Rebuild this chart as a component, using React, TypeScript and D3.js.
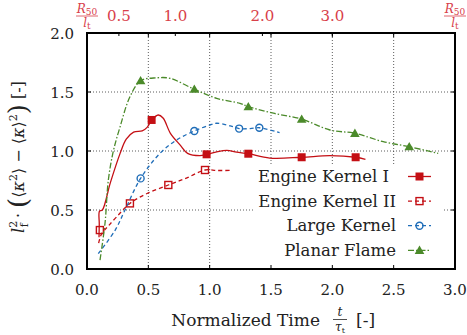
import * as d3 from 'd3';

// Engine Kernel I (solid red, filled squares)
const ek1Line: [number, number][] = [
  [0.098, 0.27], [0.1, 0.38], [0.102, 0.49], [0.125, 0.5], [0.19, 0.73], [0.27, 0.98],
  [0.32, 1.1], [0.38, 1.16], [0.45, 1.17], [0.49, 1.2], [0.527, 1.26], [0.58, 1.305],
  [0.62, 1.28], [0.68, 1.15], [0.76, 1.05], [0.82, 0.98], [0.92, 0.96], [0.975, 0.97],
  [1.05, 0.99], [1.14, 1.005], [1.22, 0.99], [1.315, 0.977], [1.49, 0.94], [1.75, 0.947],
  [1.98, 0.96], [2.19, 0.947], [2.27, 0.93],
];
const ek1Marks: [number, number][] = [[0.527, 1.263], [0.975, 0.972], [1.315, 0.977], [1.75, 0.947], [2.19, 0.947]];

// Engine Kernel II (dashed red, open squares)
const ek2Line: [number, number][] = [
  [0.095, 0.22], [0.12, 0.3], [0.17, 0.36], [0.24, 0.44], [0.35, 0.556], [0.49, 0.64],
  [0.663, 0.712], [0.81, 0.77], [0.962, 0.839], [1.06, 0.835], [1.165, 0.835],
];
const ek2Marks: [number, number][] = [[0.105, 0.33], [0.35, 0.556], [0.663, 0.712], [0.962, 0.839]];

// Large Kernel (dashed blue, open circles)
const lkLine: [number, number][] = [
  [0.092, 0.13], [0.23, 0.33], [0.31, 0.5], [0.437, 0.768], [0.595, 0.98], [0.73, 1.093],
  [0.875, 1.17], [1.0, 1.22], [1.057, 1.235], [1.19, 1.206], [1.24, 1.19], [1.33, 1.19],
  [1.405, 1.197], [1.57, 1.155],
];
const lkMarks: [number, number][] = [[0.437, 0.768], [0.875, 1.17], [1.24, 1.19], [1.405, 1.197]];

// Planar Flame (dash-dot green, filled triangles)
const pfLine: [number, number][] = [
  [0.106, 0.076], [0.147, 0.39], [0.174, 0.754], [0.215, 1.0], [0.27, 1.206], [0.35, 1.46],
  [0.437, 1.595], [0.567, 1.62], [0.676, 1.616], [0.875, 1.523], [1.057, 1.446], [1.247, 1.404],
  [1.315, 1.376], [1.52, 1.32], [1.75, 1.27], [1.98, 1.178], [2.184, 1.15], [2.415, 1.079],
  [2.627, 1.036], [2.863, 0.98],
];
const pfMarks: [number, number][] = [[0.437, 1.595], [0.875, 1.523], [1.315, 1.376], [1.75, 1.27], [2.184, 1.15], [2.627, 1.036]];

const xTicks = [0, 0.5, 1.0, 1.5, 2.0, 2.5, 3.0];
const yTicks = [0, 0.5, 1.0, 1.5, 2.0];
const topLabels = ['0.5', '1.0', '2.0', '3.0'];
const topPos = [0.26, 0.72, 1.43, 2.0];

const RED = '#c40f14';
const RED_LIGHT = '#d8404a';
const BLUE = '#1f6db8';
const GREEN = '#4b8a2a';
const FONT = "'DejaVu Serif', serif";

type Series = {
  name: string;
  line: [number, number][];
  marks: [number, number][];
  color: string;
  dash: string;
  marker: 'fsquare' | 'osquare' | 'ocircle' | 'ftriangle';
  legEnd: number;
};

const series: Series[] = [
  { name: 'Engine Kernel I', line: ek1Line, marks: ek1Marks, color: RED, dash: '', marker: 'fsquare', legEnd: 389 },
  { name: 'Engine Kernel II', line: ek2Line, marks: ek2Marks, color: RED, dash: '4,3', marker: 'osquare', legEnd: 396 },
  { name: 'Large Kernel', line: lkLine, marks: lkMarks, color: BLUE, dash: '4,3', marker: 'ocircle', legEnd: 396 },
  { name: 'Planar Flame', line: pfLine, marks: pfMarks, color: GREEN, dash: '6,2,1.5,2', marker: 'ftriangle', legEnd: 396 },
];

function Marker({ kind, x, y, color }: { kind: Series['marker']; x: number; y: number; color: string }) {
  if (kind === 'fsquare') return <rect x={x - 4} y={y - 4} width={8} height={8} fill={color} />;
  if (kind === 'osquare')
    return <rect x={x - 3.5} y={y - 3.5} width={7} height={7} fill="none" stroke={color} strokeWidth={1.4} />;
  if (kind === 'ocircle') return <circle cx={x} cy={y} r={3.5} fill="none" stroke={color} strokeWidth={1.4} />;
  const tri = d3.symbol(d3.symbolTriangle, 40)() || '';
  return <path d={tri} transform={`translate(${x},${y + 0.8})`} fill={color} />;
}

export default function App() {
  const W = 467;
  const H = 335;
  const m = { left: 87, right: 12, top: 33, bottom: 66 };
  const x = d3.scaleLinear().domain([0, 3]).range([m.left, W - m.right]);
  const y = d3.scaleLinear().domain([0, 2]).range([H - m.bottom, m.top]);
  const line = d3
    .line<[number, number]>()
    .x((d) => x(d[0]))
    .y((d) => y(d[1]))
    .curve(d3.curveCatmullRom.alpha(0.5));

  const x0 = x(0);
  const x1 = x(3);
  const y0 = y(0);
  const y1 = y(2);
  const legend = { x: 254, y: 165, w: 189, h: 103 };
  const legRow0 = 182;
  const legStep = 24.6;
  const txt = { fontFamily: FONT };

  return (
    <svg
      width={W}
      height={H}
      style={{ position: 'absolute', left: 0, top: 0, background: '#fff', fontFamily: FONT }}
    >
      {/* grid */}
      {xTicks.slice(1, -1).map((t) => (
        <line key={'gx' + t} x1={x(t)} x2={x(t)} y1={y0} y2={y1} stroke="#333" strokeWidth={0.8} strokeDasharray="1,2" />
      ))}
      {yTicks.slice(1, -1).map((t) => (
        <line key={'gy' + t} x1={x0} x2={x1} y1={y(t)} y2={y(t)} stroke="#333" strokeWidth={0.8} strokeDasharray="1,2" />
      ))}

      {/* series */}
      {series.map((s) => (
        <g key={s.name}>
          <path d={line(s.line) || ''} fill="none" stroke={s.color} strokeWidth={1.3} strokeDasharray={s.dash || undefined} />
          {s.marks.map((p, i) => (
            <Marker key={i} kind={s.marker} x={x(p[0])} y={y(p[1])} color={s.color} />
          ))}
        </g>
      ))}

      {/* legend */}
      <rect x={legend.x} y={legend.y} width={legend.w} height={legend.h} fill="#fff" />
      {series.map((s, i) => {
        const ly = legRow0 + i * legStep;
        return (
          <g key={'leg' + s.name}>
            <text x={s.legEnd} y={ly} textAnchor="end" fontSize={16.5} fill="#222" style={txt}>
              {s.name}
            </text>
            <line x1={408} x2={431} y1={ly - 5.5} y2={ly - 5.5} stroke={s.color} strokeWidth={1.3} strokeDasharray={s.dash || undefined} />
            <Marker kind={s.marker} x={419.5} y={ly - 5.5} color={s.color} />
          </g>
        );
      })}

      {/* ticks */}
      {xTicks.slice(1, -1).map((t) => (
        <g key={'tx' + t}>
          <line x1={x(t)} x2={x(t)} y1={y0} y2={y0 - 4} stroke="#000" strokeWidth={1} />
          <line x1={x(t)} x2={x(t)} y1={y1} y2={y1 + 4} stroke="#000" strokeWidth={1} />
        </g>
      ))}
      {yTicks.slice(1, -1).map((t) => (
        <g key={'ty' + t}>
          <line x1={x0} x2={x0 + 4} y1={y(t)} y2={y(t)} stroke="#000" strokeWidth={1} />
          <line x1={x1} x2={x1 - 4} y1={y(t)} y2={y(t)} stroke="#000" strokeWidth={1} />
        </g>
      ))}
      {topPos.map((t, i) => (
        <line key={'tt' + i} x1={x(t)} x2={x(t)} y1={y1} y2={y1 + 3} stroke="#000" strokeWidth={1} />
      ))}

      {/* frame */}
      <rect x={x0} y={y1} width={x1 - x0} height={y0 - y1} fill="none" stroke="#000" strokeWidth={2} />

      {/* tick labels */}
      {xTicks.map((t) => (
        <text key={'lx' + t} x={x(t)} y={295} textAnchor="middle" fontSize={15} fill="#222" style={txt}>
          {t.toFixed(1)}
        </text>
      ))}
      {yTicks.map((t) => (
        <text key={'ly' + t} x={74} y={y(t) + 5.5} textAnchor="end" fontSize={15} fill="#222" style={txt}>
          {t.toFixed(1)}
        </text>
      ))}
      {topLabels.map((l, i) => (
        <text key={'lt' + l} x={x(topPos[i])} y={21} textAnchor="middle" fontSize={15} fill={RED_LIGHT} style={txt}>
          {l}
        </text>
      ))}

      {/* top axis label R50 / l_t, both ends */}
      {[x0, x1].map((cx, i) => (
        <g key={'rl' + i} fill={RED_LIGHT}>
          <text x={cx} y={13} textAnchor="middle" fontSize={12} style={txt}>
            <tspan fontStyle="italic">R</tspan>
            <tspan fontSize={9} dy={2}>50</tspan>
          </text>
          <line x1={cx - 11} x2={cx + 11} y1={16} y2={16} stroke={RED_LIGHT} strokeWidth={0.8} />
          <text x={cx} y={27} textAnchor="middle" fontSize={12} style={txt}>
            <tspan fontStyle="italic">l</tspan>
            <tspan fontSize={9} dy={2}>t</tspan>
          </text>
        </g>
      ))}

      {/* x axis label */}
      <text x={320} y={326} textAnchor="end" fontSize={17} fill="#222" style={txt}>
        Normalized Time
      </text>
      <text x={340} y={316} textAnchor="middle" fontSize={12} fontStyle="italic" fill="#222" style={txt}>
        t
      </text>
      <line x1={333} x2={347} y1={319.5} y2={319.5} stroke="#222" strokeWidth={0.8} />
      <text x={340} y={331} textAnchor="middle" fontSize={12} fill="#222" style={txt}>
        <tspan fontStyle="italic">τ</tspan>
        <tspan fontSize={8} dy={2}>t</tspan>
      </text>
      <text x={356} y={326} fontSize={17} fill="#222" style={txt}>
        [-]
      </text>

      {/* y axis label */}
      <g transform="translate(24,157) rotate(-90)">
        <text x={0} y={0} textAnchor="middle" fontSize={16} fill="#222" style={txt}>
          <tspan fontStyle="italic">l</tspan>
          <tspan fontSize={11} dy={-7}>2</tspan>
          <tspan fontSize={11} dx={-6.5} dy={11}>f</tspan>
          <tspan dy={-4}> · </tspan>
          <tspan fontSize={26} dy={3}>(</tspan>
          <tspan dy={-3}>⟨</tspan>
          <tspan fontStyle="italic">κ</tspan>
          <tspan fontSize={11} dy={-7}>2</tspan>
          <tspan dy={7}>⟩ − ⟨</tspan>
          <tspan fontStyle="italic">κ</tspan>
          <tspan>⟩</tspan>
          <tspan fontSize={11} dy={-7}>2</tspan>
          <tspan fontSize={26} dy={10}>)</tspan>
          <tspan dy={-3}> [-]</tspan>
        </text>
      </g>
    </svg>
  );
}
